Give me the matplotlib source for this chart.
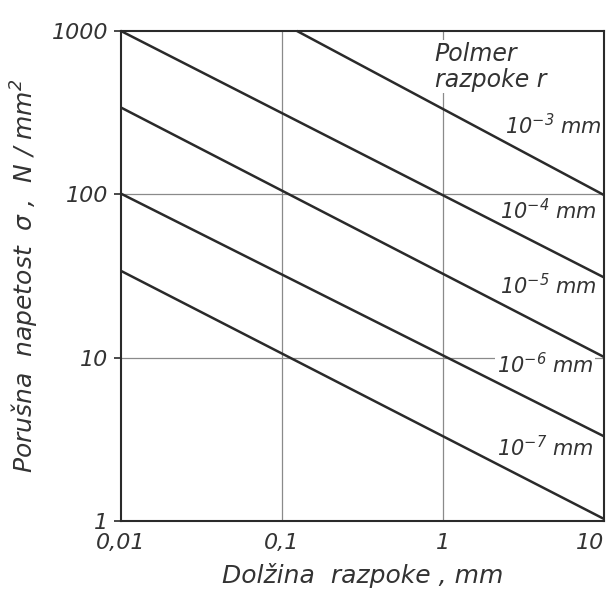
import numpy as np
import matplotlib
matplotlib.use("Agg")
import matplotlib.pyplot as plt
from matplotlib.ticker import FixedLocator, FixedFormatter, NullLocator

# crack radius labels and straight-line endpoints (log-log)
radiusExp = ["-3", "-4", "-5", "-6", "-7"]
xStart = [0.124, 0.01, 0.01, 0.01, 0.01]
yStart = [1000, 1000, 340, 101, 34]
xEnd = [10, 10, 10, 10, 10]
yEnd = [99, 31, 10.1, 3.3, 1.03]

xTicks = [0.01, 0.1, 1, 10]
xTickLabels = ["0,01", "0,1", "1", "10"]
yTicks = [1, 10, 100, 1000]
yTickLabels = ["1", "10", "100", "1000"]

# label anchor points (data coords) for each radius label
labelX = [2.43, 2.26, 2.26, 2.16, 2.16]
labelY = [262, 79, 27.5, 9.0, 2.8]

plt.rcParams["font.family"] = ["DejaVu Sans"]
plt.rcParams["font.style"] = "oblique"
plt.rcParams["mathtext.fontset"] = "custom"
plt.rcParams["mathtext.rm"] = "DejaVu Sans:oblique"
plt.rcParams["mathtext.it"] = "DejaVu Sans:oblique"
plt.rcParams["mathtext.default"] = "rm"

ink = "#2a2a2a"
textColor = "#333333"

fig = plt.figure(figsize=(6.13, 5.94), dpi=100)
ax = fig.add_axes([0.197, 0.123, 0.788, 0.825])
ax.set_xscale("log")
ax.set_yscale("log")
ax.set_xlim(0.01, 10)
ax.set_ylim(1, 1000)

for i in range(len(radiusExp)):
    ax.plot([xStart[i], xEnd[i]], [yStart[i], yEnd[i]], color=ink, lw=1.8,
            solid_capstyle="butt", zorder=3, clip_on=False)

# thin grid at inner decades
for gx in xTicks[1:-1]:
    ax.axvline(gx, color="#8a8a8a", lw=0.9, zorder=1)
for gy in yTicks[1:-1]:
    ax.axhline(gy, color="#8a8a8a", lw=0.9, zorder=1)

ax.xaxis.set_major_locator(FixedLocator(xTicks))
ax.xaxis.set_major_formatter(FixedFormatter(xTickLabels))
ax.yaxis.set_major_locator(FixedLocator(yTicks))
ax.yaxis.set_major_formatter(FixedFormatter(yTickLabels))
ax.xaxis.set_minor_locator(NullLocator())
ax.yaxis.set_minor_locator(NullLocator())
ax.tick_params(axis="x", length=0, pad=9, labelsize=16, labelcolor=textColor)
ax.tick_params(axis="y", length=5, width=1.2, pad=4, labelsize=16, labelcolor=textColor, color=ink)
ax.get_xticklabels()[-1].set_horizontalalignment("right")

for s in ax.spines.values():
    s.set_linewidth(1.5)
    s.set_color(ink)

ax.set_xlabel("Dolžina  razpoke , mm", fontsize=18, color=textColor, labelpad=7)
ax.set_ylabel("Porušna  napetost  σ ,  N / mm$^2$", fontsize=18, color=textColor, labelpad=8)

for i in range(len(radiusExp)):
    ax.text(labelX[i], labelY[i], "10$^{" + radiusExp[i] + "}$ mm", fontsize=15,
            color=textColor, ha="left", va="center", zorder=2,
            bbox=dict(facecolor="white", edgecolor="none", pad=1))

ax.text(0.89, 424, "Polmer\nrazpoke r", fontsize=17, color=textColor,
        ha="left", va="bottom", linespacing=1.1, zorder=2,
        bbox=dict(facecolor="white", edgecolor="none", pad=1))

fig.savefig("out.png", dpi=100)
